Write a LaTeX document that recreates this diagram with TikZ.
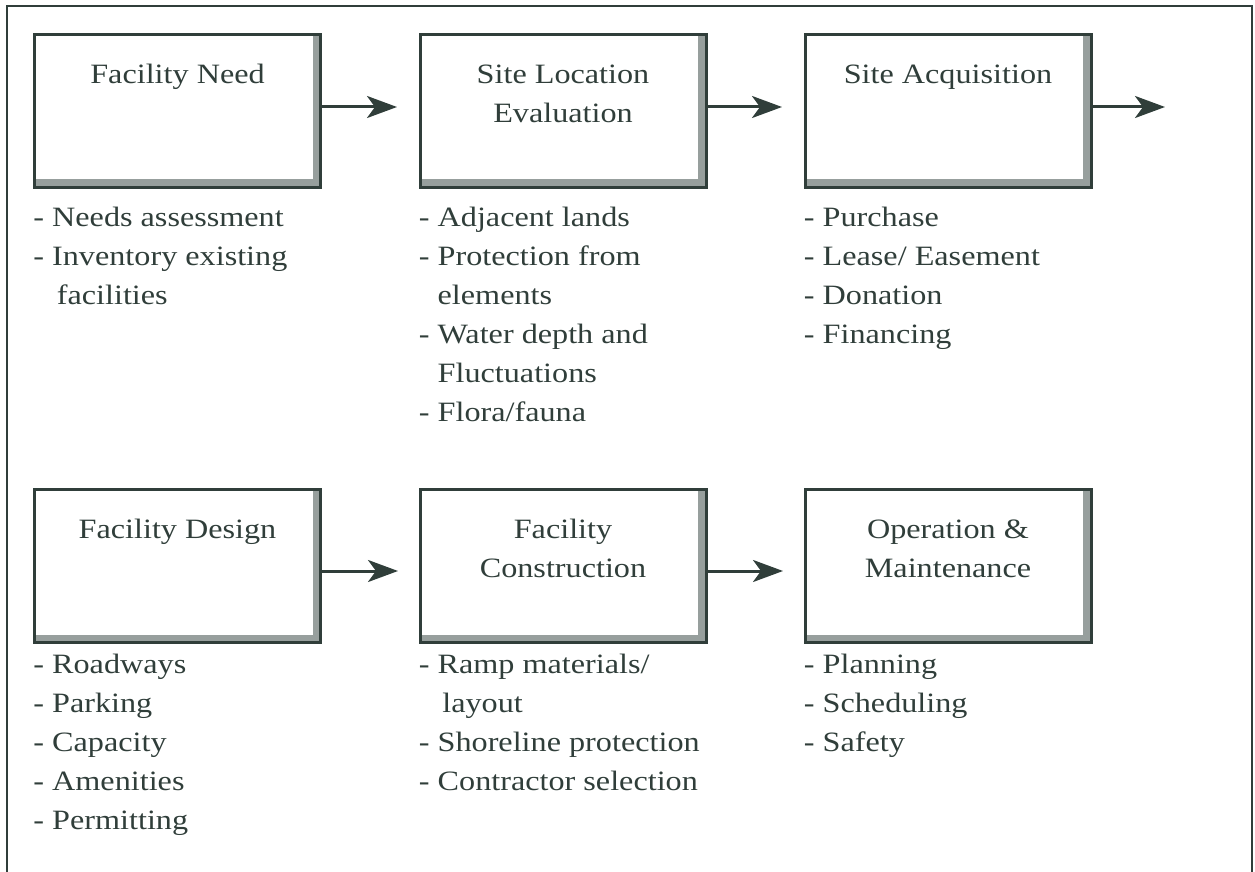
\documentclass[tikz,border=0pt]{standalone}
\usepackage{fontspec}
\setmainfont{Liberation Serif}[FakeStretch=1.15]
\usepackage{tikz}
\usetikzlibrary{arrows.meta,positioning}

\definecolor{ink}{RGB}{48,62,58}

\begin{document}
\begin{tikzpicture}[
    x=0.5pt, y=-0.5pt,
    every node/.style={
        text=ink,
        inner sep=0pt,
        font=\fontsize{14}{19.5}\selectfont
    },
    stage/.style={
        draw=ink, line width=1.5pt, fill=white,
        minimum width=143pt, minimum height=76.5pt,
        path picture={
          \fill[ink!50]
            ([xshift=-4pt]path picture bounding box.north east)
            rectangle (path picture bounding box.south east);
          \fill[ink!50]
            ([yshift=4pt]path picture bounding box.south west)
            rectangle (path picture bounding box.south east);
        }
    },
    title/.style={align=center},
    items/.style={align=left, anchor=north west},
    flow/.style={draw=ink, line width=1.5pt,
        -{Stealth[length=15pt, width=11pt, inset=4pt]}}
]
\useasboundingbox (0,0) rectangle (1255,872);

% frame, open at the bottom
\draw[ink, line width=1.2pt] (7,872) -- (7,6) -- (1252,6) -- (1252,872);

% top row
\node[stage] (need) at (177.5,111) {};
\node[stage] (loc)  at (563,111) {};
\node[stage] (acq)  at (948,111) {};
% bottom row
\node[stage] (design)  at (177.5,566) {};
\node[stage] (constr)  at (563,566) {};
\node[stage] (oper)    at (948,566) {};

\node[title, below=11.5pt of need.north] (t-need) {\strut Facility Need};
\node[title, below=11.5pt of loc.north] (t-loc) {\strut Site Location\\Evaluation};
\node[title, below=11.5pt of acq.north] (t-acq) {\strut Site Acquisition};
\node[title, below=11.5pt of design.north] (t-design) {\strut Facility Design};
\node[title, below=11.5pt of constr.north] (t-constr) {\strut Facility\\Construction};
\node[title, below=11.5pt of oper.north] (t-oper) {\strut Operation \&\\Maintenance};

% what goes into each stage
\node[items, below right=5pt and 0pt of need.south west] (i-need)
  {\strut - Needs assessment\\- Inventory existing\\\phantom{- }\,facilities};
\node[items, below right=5pt and 0pt of loc.south west] (i-loc)
  {\strut - Adjacent lands\\- Protection from\\\phantom{- }elements\\
   - Water depth and\\\phantom{- }Fluctuations\\- Flora/fauna};
\node[items, below right=5pt and 0pt of acq.south west] (i-acq)
  {\strut - Purchase\\- Lease/ Easement\\- Donation\\- Financing};
\node[items, below right=0.8pt and 0pt of design.south west] (i-design)
  {\strut - Roadways\\- Parking\\- Capacity\\- Amenities\\- Permitting};
\node[items, below right=0.8pt and 0pt of constr.south west] (i-constr)
  {\strut - Ramp materials/\\\phantom{- }\,layout\\- Shoreline protection\\- Contractor selection};
\node[items, below right=0.8pt and 0pt of oper.south west] (i-oper)
  {\strut - Planning\\- Scheduling\\- Safety};

% arrows between stages
\coordinate (a1) at (397,107);
\coordinate (a2) at (782,107);
\coordinate (a3) at (1165,107);
\coordinate (a4) at (398,571);
\coordinate (a5) at (783,571);
\draw[flow] (need.east |- a1) -- (a1);
\draw[flow] (loc.east |- a2) -- (a2);
\draw[flow] (acq.east |- a3) -- (a3);
\draw[flow] (design.east |- a4) -- (a4);
\draw[flow] (constr.east |- a5) -- (a5);
\end{tikzpicture}
\end{document}
